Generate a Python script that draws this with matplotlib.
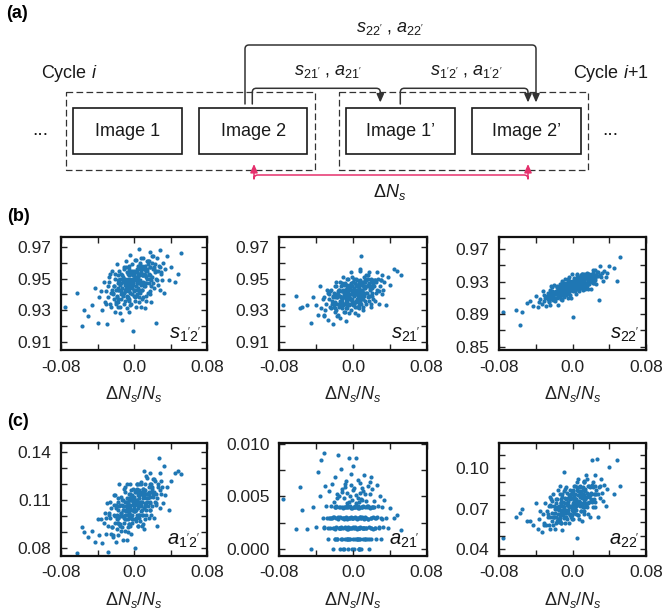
import matplotlib
matplotlib.use("Agg")
import matplotlib.pyplot as plt
import numpy as np
from matplotlib.patches import FancyArrowPatch, Rectangle
from matplotlib.path import Path

plt.rcParams['font.family'] = ['Liberation Sans', 'DejaVu Sans']
plt.rcParams['mathtext.fontset'] = 'custom'
plt.rcParams['mathtext.rm'] = 'Liberation Sans'
plt.rcParams['mathtext.it'] = 'Liberation Sans:italic'
plt.rcParams['mathtext.bf'] = 'Liberation Sans:bold'
plt.rcParams['lines.scale_dashes'] = False

# relative change of the particle number, dN_s/N_s, in units of 1e-3 (shared by all panels)
dns_milli = [
    -76, -62, -57, -55, -50, -46, -43, -40, -38, -36, -35, -33, -32, -31, -30, -29, -28, -27, -26, -25,
    -25, -24, -23, -22, -22, -21, -21, -20, -20, -19, -19, -18, -18, -17, -17, -16, -16, -15, -15, -14,
    -14, -14, -13, -13, -12, -12, -12, -11, -11, -10, -10, -10, -9, -9, -9, -8, -8, -8, -7, -7,
    -7, -6, -6, -6, -5, -5, -5, -4, -4, -4, -3, -3, -3, -2, -2, -2, -1, -1, -1, 0,
    0, 0, 1, 1, 1, 2, 2, 2, 3, 3, 3, 4, 4, 4, 5, 5, 5, 6, 6, 6,
    7, 7, 7, 8, 8, 8, 9, 9, 9, 10, 10, 10, 11, 11, 11, 12, 12, 12, 13, 13,
    13, 14, 14, 15, 15, 16, 16, 17, 17, 18, 18, 19, 19, 20, 20, 21, 21, 22, 22, 23,
    23, 24, 24, 25, 26, 26, 27, 28, 29, 30, 31, 32, 33, 34, 36, 38, 40, 45, 48, 52,
    # core points
    -24, -21, -19, -17, -16, -15, -13, -12, -11, -10, -9, -8, -7, -6, -5, -4, -3, -2, -1, 0,
    1, 2, 3, 4, 5, 6, 7, 8, 9, 10, 11, 12, 13, 15, 16, 18, 20, 22, 25, 28,
    -27, -23, -20, -18, -14, -12, -10, -8, -6, -4, -2, 0, 2, 4, 6, 8, 10, 12, 14, 17,
    -22, -18, -15, -13, -11, -9, -7, -5, -3, -1, 1, 3, 5, 7, 9, 11, 13, 16, 19, 24,
    -31, -26, -17, -14, -10, -7, -4, -1, 0, 2, 3, 5, 6, 8, 10, 12, 14, 17, 21, 30,
]

# s_1'2' (units 1e-3)
s12_milli = [
    932, 941, 920, 930, 926, 933, 944, 922, 938, 942, 930, 948, 935, 942, 921, 945, 938, 951, 934, 941,
    932, 955, 940, 937, 945, 929, 950, 943, 935, 959, 939, 947, 932, 949, 937, 943, 955, 928, 946, 940,
    953, 937, 944, 924, 949, 951, 939, 957, 934, 943, 948, 936, 961, 942, 946, 931, 949, 954, 938, 943,
    948, 929, 952, 956, 942, 946, 937, 965, 941, 950, 934, 947, 953, 940, 959, 945, 917, 952, 948, 939,
    955, 942, 936, 951, 962, 945, 949, 932, 954, 947, 940, 958, 944, 952, 935, 969, 943, 948, 956, 938,
    949, 960, 941, 947, 954, 932, 958, 952, 943, 948, 963, 938, 953, 945, 957, 931, 952, 958, 947, 955,
    936, 956, 950, 941, 961, 953, 947, 967, 940, 952, 957, 945, 935, 960, 951, 947, 964, 956, 944, 954,
    959, 950, 922, 963, 955, 946, 958, 943, 968, 954, 949, 960, 941, 956, 964, 949, 957, 948, 953, 966,
    943, 953, 938, 943, 949, 932, 952, 948, 941, 946, 957, 938, 950, 944, 953, 933, 949, 955, 946, 952,
    938, 954, 949, 943, 958, 952, 948, 963, 943, 952, 956, 947, 939, 959, 952, 950, 964, 957, 949, 957,
    948, 941, 934, 952, 947, 940, 950, 939, 958, 948, 944, 954, 939, 951, 957, 946, 952, 945, 955, 957,
    945, 935, 950, 941, 956, 944, 953, 936, 948, 952, 943, 956, 947, 953, 937, 956, 951, 961, 949, 955,
    934, 953, 944, 942, 949, 937, 954, 950, 943, 962, 947, 953, 942, 956, 947, 952, 961, 942, 956, 953,
]

# s_21' (units 1e-3)
s21_milli = [
    933, 939, 931, 932, 933, 922, 938, 933, 927, 945, 931, 937, 926, 938, 930, 934, 943, 924, 937, 932,
    942, 931, 936, 921, 939, 941, 932, 945, 929, 935, 939, 930, 948, 934, 938, 927, 940, 943, 932, 936,
    939, 925, 942, 945, 935, 937, 931, 951, 934, 941, 929, 938, 943, 934, 947, 937, 923, 942, 940, 933,
    944, 935, 931, 941, 950, 937, 940, 928, 944, 938, 934, 946, 937, 943, 930, 954, 936, 940, 945, 933,
    941, 948, 934, 939, 944, 928, 947, 942, 936, 940, 950, 932, 943, 937, 946, 927, 942, 947, 939, 944,
    931, 946, 941, 935, 949, 943, 939, 964, 934, 942, 946, 937, 930, 948, 941, 939, 951, 945, 936, 944,
    948, 941, 934, 950, 945, 938, 946, 936, 954, 943, 939, 948, 934, 945, 950, 939, 944, 937, 947, 948,
    945, 936, 949, 941, 954, 943, 950, 934, 945, 949, 940, 952, 943, 948, 933, 951, 946, 956, 955, 952,
    943, 934, 938, 926, 942, 943, 936, 947, 933, 939, 942, 935, 950, 939, 942, 933, 944, 947, 937, 940,
    943, 932, 946, 949, 940, 943, 937, 955, 940, 946, 937, 945, 949, 941, 952, 944, 932, 949, 948, 942,
    941, 934, 931, 940, 948, 938, 941, 931, 944, 940, 937, 948, 940, 945, 935, 956, 940, 944, 949, 939,
    938, 945, 934, 938, 943, 929, 946, 942, 937, 941, 950, 935, 945, 940, 948, 932, 945, 950, 944, 949,
    927, 940, 938, 933, 946, 942, 939, 951, 935, 943, 946, 939, 933, 948, 943, 941, 952, 947, 941, 949,
]

# s_22' (units 1e-3)
s22_milli = [
    893, 895, 877, 893, 904, 906, 900, 913, 899, 905, 909, 902, 918, 906, 910, 900, 913, 916, 906, 909,
    913, 901, 916, 919, 910, 913, 907, 926, 910, 917, 906, 915, 919, 910, 924, 914, 901, 919, 917, 911,
    922, 914, 909, 920, 927, 916, 919, 907, 922, 918, 914, 925, 916, 922, 911, 933, 916, 920, 925, 914,
    921, 928, 915, 919, 925, 910, 927, 923, 917, 921, 931, 914, 925, 920, 927, 910, 924, 929, 921, 927,
    887, 928, 924, 918, 931, 926, 922, 935, 918, 926, 929, 921, 915, 931, 925, 923, 935, 929, 921, 928,
    931, 925, 919, 934, 929, 923, 931, 922, 938, 928, 925, 933, 920, 930, 935, 925, 930, 924, 932, 934,
    931, 922, 935, 927, 939, 929, 936, 921, 932, 935, 927, 938, 930, 934, 921, 937, 932, 941, 929, 935,
    928, 944, 934, 932, 938, 927, 942, 937, 908, 949, 936, 941, 931, 943, 936, 941, 949, 947, 931, 960,
    920, 915, 910, 925, 921, 916, 924, 916, 931, 923, 920, 927, 916, 926, 931, 922, 927, 921, 929, 931,
    929, 921, 933, 926, 938, 929, 936, 922, 932, 935, 928, 939, 932, 937, 925, 940, 936, 945, 936, 942,
    909, 925, 917, 916, 923, 914, 928, 925, 920, 936, 925, 930, 922, 933, 927, 932, 940, 925, 936, 934,
    923, 915, 921, 909, 925, 928, 921, 933, 920, 927, 930, 924, 940, 929, 933, 925, 937, 941, 933, 938,
    914, 905, 923, 927, 920, 924, 920, 939, 924, 931, 922, 931, 935, 928, 940, 932, 921, 939, 939, 938,
]

# a_1'2' (units 1e-3)
a12_milli = [
    70, 77, 93, 90, 87, 91, 84, 98, 88, 98, 83, 96, 102, 89, 108, 94, 78, 102, 99, 89,
    105, 93, 87, 101, 113, 96, 100, 84, 105, 98, 92, 109, 96, 104, 88, 120, 95, 100, 107, 91,
    102, 112, 93, 100, 106, 85, 110, 104, 96, 101, 115, 91, 106, 98, 109, 85, 105, 111, 101, 108,
    90, 110, 104, 95, 114, 106, 100, 120, 94, 105, 110, 99, 89, 113, 104, 101, 117, 109, 98, 107,
    112, 103, 80, 115, 108, 99, 110, 97, 120, 107, 101, 113, 94, 109, 115, 101, 108, 99, 111, 113,
    109, 97, 114, 103, 120, 106, 115, 94, 109, 113, 101, 117, 105, 112, 92, 114, 108, 120, 104, 111,
    101, 124, 109, 106, 114, 99, 118, 112, 104, 127, 109, 115, 101, 117, 106, 112, 123, 99, 115, 109,
    122, 107, 114, 94, 118, 120, 136, 127, 105, 114, 118, 108, 131, 113, 118, 104, 122, 127, 128, 126,
    93, 113, 101, 99, 106, 94, 110, 106, 99, 118, 103, 109, 98, 111, 102, 107, 116, 96, 110, 105,
    116, 104, 110, 94, 114, 116, 107, 121, 104, 111, 115, 106, 125, 111, 115, 104, 118, 123, 111, 116,
    101, 88, 107, 111, 101, 104, 98, 120, 102, 110, 98, 109, 115, 105, 120, 109, 95, 116, 114, 108,
    107, 99, 95, 107, 117, 103, 107, 95, 112, 107, 103, 117, 107, 114, 101, 128, 108, 114, 120, 108,
    99, 109, 96, 102, 109, 93, 114, 110, 103, 108, 120, 101, 113, 107, 117, 98, 114, 120, 113, 122,
]

# a_21' (units 1e-4)
a21_tenth_milli = [
    48, 19, 59, 37, 19, 0, 40, 21, 73, 50, 84, 30, 91, 20, 60, 41, 30, 10, 55, 20,
    30, 41, 62, 20, 0, 31, 45, 10, 19, 68, 40, 30, 21, 52, 10, 89, 29, 40, 20, 0,
    40, 31, 20, 76, 10, 30, 57, 39, 20, 0, 30, 49, 21, 40, 10, 65, 31, 20, 41, 53,
    20, 29, 10, 44, 40, 19, 0, 30, 86, 20, 50, 41, 10, 31, 61, 20, 39, 30, 47, 10,
    30, 21, 40, 58, 0, 10, 31, 20, 86, 40, 51, 29, 19, 10, 66, 41, 30, 20, 0, 45,
    20, 30, 39, 10, 63, 21, 30, 0, 48, 40, 31, 20, 55, 10, 41, 29, 70, 20, 40, 10,
    31, 46, 20, 40, 10, 60, 29, 21, 0, 52, 39, 30, 20, 68, 10, 40, 57, 31, 19, 46,
    40, 30, 20, 10, 61, 31, 41, 20, 50, 10, 29, 40, 21, 47, 30, 20, 39, 30, 32, 18,
    30, 20, 40, 10, 31, 50, 21, 40, 0, 29, 62, 20, 41, 30, 10, 45, 20, 39, 30, 56,
    40, 21, 30, 10, 49, 20, 0, 31, 40, 58, 20, 30, 10, 41, 29, 64, 20, 40, 30, 21,
    20, 30, 10, 41, 20, 54, 30, 40, 19, 10, 71, 30, 40, 20, 0, 31, 47, 20, 30, 40,
    31, 40, 20, 10, 30, 59, 40, 21, 30, 0, 20, 44, 39, 10, 30, 20, 52, 41, 30, 20,
    21, 30, 49, 20, 40, 10, 30, 20, 79, 41, 30, 10, 20, 53, 40, 30, 20, 10, 40, 30,
]

# a_22' (units 1e-3)
a22_milli = [
    48, 64, 67, 70, 61, 61, 58, 74, 55, 62, 68, 53, 66, 59, 74, 58, 68, 64, 58, 73,
    64, 55, 72, 67, 61, 81, 58, 64, 72, 67, 55, 77, 64, 71, 61, 84, 66, 60, 70, 64,
    81, 63, 68, 77, 59, 66, 72, 54, 79, 69, 65, 75, 97, 63, 71, 74, 59, 67, 77, 69,
    64, 73, 82, 62, 69, 78, 67, 80, 59, 72, 77, 66, 84, 71, 64, 78, 72, 81, 69, 68,
    71, 83, 68, 78, 62, 76, 67, 87, 74, 70, 81, 66, 77, 72, 90, 48, 76, 65, 80, 74,
    83, 62, 76, 79, 72, 87, 68, 74, 82, 61, 79, 72, 86, 71, 81, 77, 66, 90, 74, 80,
    68, 83, 77, 95, 73, 71, 82, 66, 87, 79, 75, 86, 64, 81, 77, 106, 75, 71, 86, 81,
    77, 95, 75, 71, 84, 81, 107, 64, 86, 78, 92, 82, 76, 88, 72, 85, 101, 81, 106, 87,
    79, 64, 70, 77, 62, 69, 74, 59, 81, 72, 69, 78, 86, 68, 75, 78, 65, 72, 82, 74,
    71, 79, 87, 69, 75, 83, 75, 86, 68, 79, 84, 75, 91, 79, 74, 87, 82, 90, 81, 81,
    66, 77, 64, 74, 61, 74, 67, 85, 74, 71, 81, 69, 79, 75, 92, 74, 81, 71, 85, 81,
    76, 59, 72, 75, 69, 83, 67, 73, 80, 62, 78, 73, 86, 73, 83, 79, 71, 92, 80, 87,
    58, 72, 70, 87, 68, 68, 78, 65, 84, 77, 74, 84, 65, 81, 78, 90, 77, 74, 88, 87,
]

panel_names = [r"$s_{1'2'}$", r"$s_{21'}$", r"$s_{22'}$",
               r"$a_{1'2'}$", r"$a_{21'}$", r"$a_{22'}$"]

x_ticks = [-0.08, 0.0, 0.08]
x_tick_labels = ['-0.08', '0.0', '0.08']

W, H = 664, 612
fig = plt.figure(figsize=(W / 100, H / 100), dpi=100)

dark = '#333333'
blue = '#1f77b4'


def px_axes(left, top, right, bottom):
    # axes placed with pixel edges measured from the top-left corner
    return fig.add_axes([left / W, 1 - bottom / H, (right - left) / W, (bottom - top) / H])


x = np.array(dns_milli) / 1000
panels = [
    (np.array(s12_milli) / 1000, (0.9047, 0.9763), [0.91, 0.93, 0.95, 0.97], [0.92, 0.94, 0.96],
     ['0.91', '0.93', '0.95', '0.97']),
    (np.array(s21_milli) / 1000, (0.9047, 0.9763), [0.91, 0.93, 0.95, 0.97], [0.92, 0.94, 0.96],
     ['0.91', '0.93', '0.95', '0.97']),
    (np.array(s22_milli) / 1000, (0.846, 0.985), [0.85, 0.89, 0.93, 0.97], [0.87, 0.91, 0.95],
     ['0.85', '0.89', '0.93', '0.97']),
    (np.array(a12_milli) / 1000, (0.0754, 0.1458), [0.08, 0.11, 0.14], [0.09, 0.10, 0.12, 0.13],
     ['0.08', '0.11', '0.14']),
    (np.array(a21_tenth_milli) / 10000, (-0.0006, 0.0101), [0.0, 0.005, 0.010], [0.0025, 0.0075],
     ['0.000', '0.005', '0.010']),
    (np.array(a22_milli) / 1000, (0.035, 0.1193), [0.04, 0.07, 0.10], [0.05, 0.06, 0.08, 0.09, 0.11],
     ['0.04', '0.07', '0.10']),
]

cols = [(61, 207), (279.3, 426.7), (499, 646)]
rows = [(237, 350), (442.5, 555.7)]

for i, (yvals, ylim, yt, ytm, ytl) in enumerate(panels):
    l, r = cols[i % 3]
    t, b = rows[i // 3]
    ax = px_axes(l, t, r, b)
    ax.scatter(x, yvals, s=9, c=blue, linewidths=0)
    ax.set_xlim(-0.08, 0.08)
    ax.set_ylim(*ylim)
    ax.set_xticks(x_ticks)
    ax.set_xticklabels(x_tick_labels)
    ax.set_xticks([-0.04, 0.04], minor=True)
    ax.set_yticks(yt)
    ax.set_yticklabels(ytl)
    ax.set_yticks(ytm, minor=True)
    ax.tick_params(which='both', direction='in', top=True, right=True,
                   length=4, width=1, color='#222222')
    ax.tick_params(which='major', labelsize=12.5, pad=7, labelcolor='#222222')
    for sp in ax.spines.values():
        sp.set_linewidth(1.6)
        sp.set_color('#111111')
    ax.set_xlabel(r'$\Delta N_s/N_s$', fontsize=13, labelpad=7, color='#222222')
    ax.text(0.955, 0.10, panel_names[i], transform=ax.transAxes, ha='right',
            va='baseline', fontsize=14.5, color='#111111')

# panel letters
fig.text(6 / W, 1 - 13 / H, '(a)', fontsize=13, fontweight='bold', va='center')
fig.text(7 / W, 1 - 216 / H, '(b)', fontsize=13, fontweight='bold', va='center')
fig.text(7 / W, 1 - 421 / H, '(c)', fontsize=13, fontweight='bold', va='center')

# schematic (a), drawn in pixel coordinates
dax = fig.add_axes([0, 0, 1, 1])
dax.set_xlim(0, W)
dax.set_ylim(H, 0)
dax.axis('off')
dax.patch.set_alpha(0)

for (l, t, r, b) in [(65.7, 92.3, 315, 170), (339.3, 92.3, 588, 170)]:
    dax.add_patch(Rectangle((l, t), r - l, b - t, fill=False, ec=dark, lw=0.9,
                            ls=(0, (4.8, 2.4))))

images = [(72.7, 181.7, 'Image 1'), (199, 307.3, 'Image 2'),
          (346, 455.3, "Image 1\u2019"), (472, 581.3, "Image 2\u2019")]
for l, r, name in images:
    dax.add_patch(Rectangle((l, 107.7), r - l, 46.6, fill=False, ec='#1a1a1a', lw=1.2))
    dax.text((l + r) / 2, 131, name, ha='center', va='center', fontsize=13, color='#1a1a1a')

dax.text(32, 135, '...', ha='left', va='baseline', fontsize=14, color='#1a1a1a')
dax.text(602, 135, '...', ha='left', va='baseline', fontsize=14, color='#1a1a1a')
dax.text(40.7, 73.3, r'Cycle $i$', ha='left', va='center', fontsize=13, color='#1a1a1a')
dax.text(572.7, 73.3, r'Cycle $i$+1', ha='left', va='center', fontsize=13, color='#1a1a1a')


def bracket(x0, x1, ytop, ystart, yend, rad=4.0):
    verts = [(x0, ystart), (x0, ytop + rad), (x0, ytop), (x0 + rad, ytop),
             (x1 - rad, ytop), (x1, ytop), (x1, ytop + rad), (x1, yend)]
    codes = [Path.MOVETO, Path.LINETO, Path.CURVE3, Path.CURVE3,
             Path.LINETO, Path.CURVE3, Path.CURVE3, Path.LINETO]
    return Path(verts, codes)


for (x0, x1, ytop) in [(245, 536, 45), (252.3, 380.3, 88.3), (400.3, 528, 88.3)]:
    arr = FancyArrowPatch(path=bracket(x0, x1, ytop, 104, 102.5),
                          arrowstyle='-|>,head_length=0.5,head_width=0.22',
                          mutation_scale=10, lw=1.1, color=dark)
    dax.add_patch(arr)

pink = '#e5306c'
pk = FancyArrowPatch(path=bracket(254, 528, 175, 164, 164),
                     arrowstyle='<|-|>,head_length=0.5,head_width=0.22',
                     mutation_scale=10, lw=1.1, color=pink)
dax.add_patch(pk)

dax.text(390, 32, r"$s_{22'}$ , $a_{22'}$", ha='center', va='baseline', fontsize=13, color='#1a1a1a')
dax.text(328.5, 75, r"$s_{21'}$ , $a_{21'}$", ha='center', va='baseline', fontsize=13, color='#1a1a1a')
dax.text(466, 75, r"$s_{1'2'}$ , $a_{1'2'}$", ha='center', va='baseline', fontsize=13, color='#1a1a1a')
dax.text(390, 197, r'$\Delta N_s$', ha='center', va='baseline', fontsize=13, color='#1a1a1a')

fig.savefig('out.png', dpi=100)
